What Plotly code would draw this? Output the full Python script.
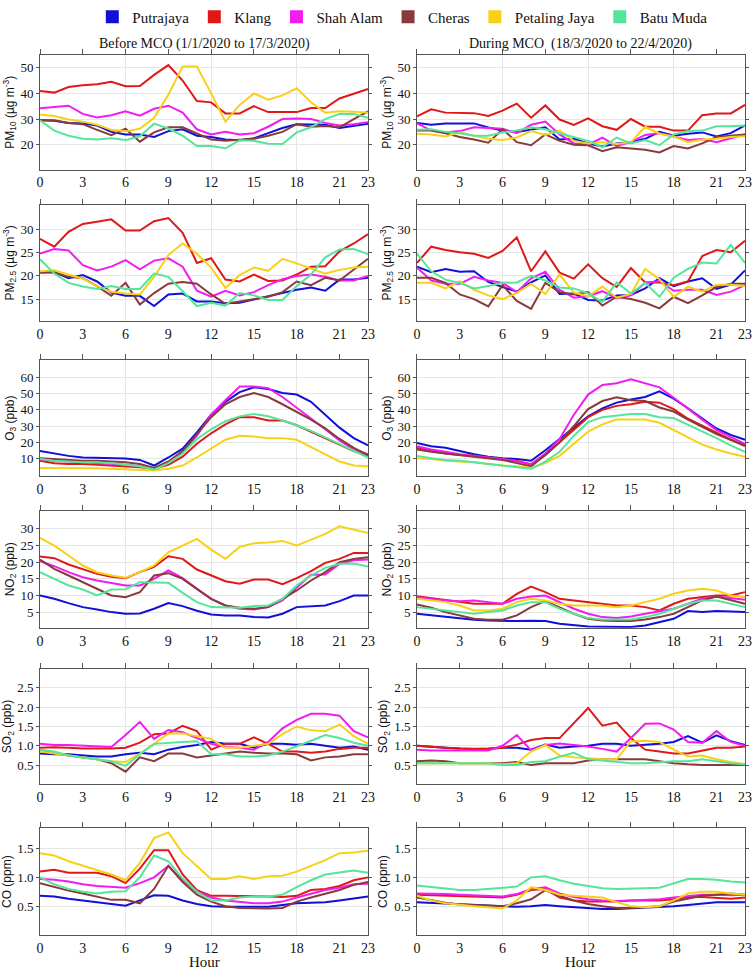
import plotly.graph_objects as go

hours = list(range(24))
stations = ['Putrajaya', 'Klang', 'Shah Alam', 'Cheras', 'Petaling Jaya', 'Batu Muda']
colors = ['#1010d8', '#e01818', '#f21cf0', '#8a3a3a', '#f7d117', '#55e59a']
hour_ticks = [0, 3, 6, 9, 12, 15, 18, 21, 23]

# PM10, before MCO
pm10_before_putrajaya = [29.5, 29.3, 28.5, 28.3, 27.5, 25.0, 24.0, 24.0, 23.0, 25.3, 26.0, 23.5, 23.0, 22.0, 21.7, 22.5, 24.5, 26.5, 28.0, 28.0, 27.8, 26.5, 27.5, 28.2]
pm10_before_klang = [40.9, 40.3, 42.5, 43.2, 43.6, 44.5, 42.8, 42.9, 47.2, 51.0, 45.0, 37.0, 36.5, 32.2, 32.2, 35.0, 32.7, 32.7, 32.7, 34.3, 34.3, 38.0, 40.0, 41.7]
pm10_before_shahalam = [34.2, 34.8, 35.2, 32.0, 30.6, 31.5, 33.0, 31.3, 34.0, 35.2, 32.5, 26.0, 24.0, 25.0, 24.0, 24.5, 27.0, 30.0, 30.2, 30.0, 28.5, 27.5, 28.0, 28.8]
pm10_before_cheras = [29.5, 29.5, 28.5, 28.0, 25.8, 23.7, 26.2, 21.2, 24.8, 26.8, 26.8, 24.3, 22.0, 21.5, 22.0, 22.3, 23.5, 25.0, 28.0, 27.0, 27.3, 26.8, 30.0, 33.0]
pm10_before_pj = [31.8, 31.2, 29.8, 29.0, 27.8, 25.8, 25.2, 26.2, 30.5, 39.5, 50.5, 50.5, 40.0, 29.0, 35.5, 40.0, 37.5, 39.2, 42.0, 36.5, 32.5, 33.0, 32.8, 32.5]
pm10_before_batumuda = [29.5, 25.5, 23.5, 22.3, 22.0, 22.5, 21.8, 23.3, 28.2, 26.3, 23.5, 19.5, 19.5, 18.6, 21.7, 21.5, 20.4, 20.3, 24.8, 26.8, 30.0, 32.0, 32.0, 30.5]

# PM10, during MCO
pm10_during_putrajaya = [28.5, 27.8, 28.3, 28.3, 28.3, 26.7, 25.5, 25.0, 26.0, 26.8, 22.0, 22.3, 20.5, 19.3, 20.5, 21.0, 22.3, 25.0, 23.5, 24.3, 24.8, 23.2, 24.5, 27.5]
pm10_during_klang = [31.0, 33.8, 32.5, 32.5, 32.3, 31.2, 33.3, 36.0, 30.5, 35.3, 29.8, 27.7, 30.3, 27.2, 25.8, 30.0, 27.0, 27.0, 25.5, 25.5, 31.5, 32.2, 32.2, 35.5]
pm10_during_shahalam = [28.3, 25.5, 24.8, 25.3, 26.8, 26.5, 26.2, 24.5, 27.8, 29.0, 24.0, 20.5, 20.0, 22.8, 19.5, 21.0, 23.8, 24.5, 23.0, 21.8, 22.2, 21.0, 22.5, 24.0]
pm10_during_cheras = [25.5, 25.5, 24.5, 23.0, 22.0, 20.8, 26.0, 21.0, 19.8, 24.0, 21.5, 20.0, 19.8, 17.5, 19.0, 18.5, 18.0, 17.0, 19.5, 18.5, 20.5, 23.0, 23.5, 24.0]
pm10_during_pj = [24.3, 24.0, 23.2, 24.8, 23.5, 22.3, 21.8, 22.8, 25.3, 23.8, 25.5, 21.5, 20.5, 21.0, 20.3, 21.0, 27.0, 24.3, 23.2, 21.0, 22.0, 22.3, 23.0, 23.3]
pm10_during_batumuda = [25.8, 26.0, 25.0, 24.5, 23.5, 23.5, 24.8, 25.5, 26.8, 26.0, 24.5, 23.0, 21.5, 19.0, 22.8, 20.5, 21.8, 19.8, 24.0, 25.3, 25.5, 27.2, 27.2, 27.5]

# PM2.5, before MCO
pm25_before_putrajaya = [20.8, 20.8, 19.5, 20.2, 18.8, 16.4, 15.7, 15.7, 13.5, 16.0, 16.2, 14.5, 14.5, 14.1, 14.2, 14.9, 15.6, 16.2, 17.0, 17.5, 16.8, 19.2, 19.2, 19.6]
pm25_before_klang = [28.0, 26.3, 29.5, 31.2, 31.7, 32.2, 29.8, 29.8, 31.8, 32.5, 29.3, 22.8, 23.8, 19.2, 18.8, 20.3, 18.9, 19.0, 20.3, 22.0, 22.1, 25.3, 27.0, 29.0]
pm25_before_shahalam = [24.8, 25.8, 25.5, 22.3, 21.2, 22.0, 23.4, 21.4, 23.3, 23.8, 22.0, 16.8, 15.5, 16.8, 15.8, 16.5, 18.0, 19.3, 20.0, 20.3, 19.8, 19.0, 19.0, 20.0]
pm25_before_cheras = [20.7, 20.8, 19.8, 19.5, 17.8, 15.7, 18.5, 13.8, 16.3, 18.3, 18.7, 18.3, 16.0, 14.0, 14.5, 15.0, 15.5, 16.5, 18.8, 18.0, 19.6, 19.0, 21.3, 23.7]
pm25_before_pj = [21.0, 21.2, 20.3, 19.4, 17.8, 16.6, 16.2, 16.0, 19.8, 24.5, 27.0, 24.8, 21.8, 17.4, 20.2, 21.8, 21.1, 23.7, 22.7, 21.6, 20.5, 21.3, 21.8, 22.0]
pm25_before_batumuda = [23.6, 20.5, 18.5, 17.7, 17.2, 17.8, 17.2, 17.2, 20.5, 19.8, 16.7, 13.5, 14.2, 13.6, 16.3, 15.8, 14.8, 14.8, 17.8, 20.3, 24.0, 25.7, 25.8, 24.7]

# PM2.5, during MCO
pm25_during_putrajaya = [22.0, 20.8, 21.5, 20.9, 21.0, 18.7, 17.6, 16.6, 18.6, 20.1, 16.1, 16.2, 14.8, 14.7, 15.8, 15.9, 17.3, 19.5, 17.8, 18.8, 19.5, 17.2, 18.1, 21.2]
pm25_during_klang = [22.8, 26.3, 25.6, 25.1, 24.8, 23.9, 25.4, 28.3, 21.0, 25.3, 20.7, 19.4, 22.5, 19.5, 17.6, 21.7, 18.6, 18.6, 18.0, 18.8, 24.3, 25.6, 25.1, 27.6]
pm25_during_shahalam = [21.8, 19.0, 18.3, 18.3, 19.8, 19.0, 18.5, 16.5, 19.5, 20.9, 17.0, 15.3, 15.6, 16.7, 15.2, 15.8, 18.5, 18.9, 16.8, 17.0, 17.0, 15.9, 16.6, 18.0]
pm25_during_cheras = [19.6, 19.6, 18.5, 16.0, 15.0, 13.4, 18.0, 14.6, 12.9, 18.5, 16.5, 16.0, 16.5, 13.6, 15.5, 15.0, 14.2, 13.0, 15.5, 14.1, 15.8, 17.6, 18.3, 18.3]
pm25_during_pj = [18.5, 18.5, 17.3, 18.8, 17.0, 15.8, 15.0, 16.3, 18.3, 16.1, 20.3, 16.4, 15.6, 17.7, 15.3, 16.1, 21.5, 19.3, 15.5, 17.7, 16.6, 18.1, 18.1, 17.8]
pm25_during_batumuda = [24.8, 21.0, 19.2, 18.5, 17.3, 17.8, 18.5, 18.6, 20.0, 19.0, 17.5, 17.3, 16.2, 14.4, 18.6, 16.2, 18.5, 15.5, 19.6, 21.5, 22.9, 22.7, 26.7, 22.8]

# O3, before MCO
o3_before_putrajaya = [14.5, 13.0, 11.5, 10.5, 10.3, 10.0, 9.8, 9.0, 5.5, 10.5, 16.0, 26.0, 37.0, 45.0, 51.0, 54.0, 53.0, 50.5, 49.5, 45.0, 37.0, 29.0, 22.5, 18.0]
o3_before_klang = [8.5, 7.0, 6.5, 6.5, 6.0, 5.5, 5.0, 4.5, 3.5, 6.0, 11.0, 19.0, 25.5, 31.0, 35.5, 35.5, 33.5, 33.5, 30.5, 26.5, 22.0, 18.0, 14.5, 11.5]
o3_before_shahalam = [9.5, 8.5, 8.0, 7.5, 7.0, 6.5, 6.0, 5.0, 3.5, 7.5, 14.0, 24.0, 37.0, 46.0, 54.5, 54.5, 53.5, 48.0, 41.5, 35.0, 28.0, 21.0, 15.5, 12.5]
o3_before_cheras = [10.0, 9.5, 9.0, 8.5, 8.5, 8.0, 7.5, 6.5, 4.0, 8.0, 14.5, 25.0, 35.5, 43.5, 48.0, 50.5, 48.0, 43.5, 39.0, 34.0, 28.5, 22.0, 16.5, 12.0]
o3_before_pj = [4.0, 4.0, 4.0, 4.0, 3.8, 3.5, 3.2, 2.8, 2.5, 3.5, 5.5, 10.5, 16.0, 21.5, 24.0, 23.5, 22.5, 22.5, 21.5, 17.0, 12.0, 8.0, 5.5, 5.0]
o3_before_batumuda = [9.5, 8.5, 8.0, 7.5, 7.5, 7.0, 6.0, 5.0, 3.0, 7.0, 13.0, 22.0, 28.0, 33.0, 36.0, 37.5, 36.0, 33.5, 30.5, 27.0, 23.0, 19.0, 15.0, 10.5]

# O3, during MCO
o3_during_putrajaya = [19.5, 17.5, 16.5, 14.5, 12.5, 11.0, 10.0, 9.5, 8.5, 15.0, 22.0, 29.0, 36.0, 41.0, 44.5, 46.5, 48.0, 51.5, 47.0, 41.0, 35.0, 28.5, 24.5, 21.5]
o3_during_klang = [16.5, 14.5, 13.0, 12.0, 11.5, 10.5, 9.5, 8.5, 6.0, 12.0, 20.0, 27.5, 35.5, 40.0, 42.5, 43.5, 45.0, 44.5, 40.5, 34.5, 30.0, 25.5, 21.5, 17.5]
o3_during_shahalam = [17.5, 15.5, 14.0, 12.5, 11.5, 10.5, 9.5, 8.0, 6.5, 13.0, 22.0, 37.0, 49.5, 55.5, 56.5, 59.0, 56.5, 54.0, 47.5, 40.5, 34.0, 27.5, 23.0, 19.0]
o3_during_cheras = [15.5, 14.0, 13.0, 12.0, 11.0, 10.0, 9.0, 7.0, 5.0, 12.0, 20.0, 30.0, 40.5, 45.5, 47.8, 46.0, 45.5, 41.5, 39.0, 34.0, 29.5, 25.0, 21.5, 18.0]
o3_during_pj = [10.0, 9.5, 8.5, 8.0, 7.5, 6.5, 5.5, 5.0, 4.0, 7.0, 11.5, 19.0, 26.5, 31.0, 34.0, 34.0, 34.0, 32.0, 27.5, 22.5, 18.5, 15.5, 13.0, 11.0]
o3_during_batumuda = [11.5, 10.0, 9.0, 8.5, 7.5, 6.5, 5.5, 4.5, 3.5, 8.0, 14.0, 24.0, 32.5, 35.5, 36.5, 37.5, 37.5, 35.5, 35.0, 31.0, 27.0, 22.5, 18.0, 14.0]

# NO2, before MCO
no2_before_putrajaya = [10.0, 9.0, 7.7, 6.5, 5.8, 5.0, 4.5, 4.6, 6.0, 7.7, 6.8, 5.4, 4.3, 4.0, 4.0, 3.5, 3.4, 4.5, 6.5, 6.8, 7.0, 8.3, 10.0, 10.0]
no2_before_klang = [21.7, 21.2, 19.3, 17.8, 16.5, 15.6, 15.2, 17.0, 18.6, 21.8, 21.0, 17.8, 16.0, 14.3, 13.5, 14.8, 14.8, 13.4, 15.2, 17.3, 19.8, 21.0, 22.8, 22.8]
no2_before_shahalam = [20.3, 18.8, 17.0, 15.5, 14.5, 13.7, 13.0, 13.0, 15.0, 17.5, 15.2, 12.0, 9.0, 7.0, 6.0, 5.8, 6.5, 8.5, 12.5, 16.2, 16.3, 19.5, 20.6, 20.8]
no2_before_cheras = [20.8, 18.0, 16.0, 14.0, 12.0, 10.0, 9.5, 11.0, 16.0, 16.7, 15.0, 12.0, 9.0, 7.0, 6.3, 6.0, 6.5, 9.0, 11.5, 14.5, 17.0, 20.0, 21.0, 21.5]
no2_before_pj = [27.3, 25.0, 22.0, 19.0, 17.0, 16.0, 15.3, 17.0, 19.0, 23.0, 25.0, 27.0, 23.8, 21.0, 24.6, 25.7, 25.9, 26.4, 25.0, 26.8, 28.5, 30.8, 29.8, 28.8]
no2_before_batumuda = [17.0, 15.0, 13.0, 11.8, 10.0, 11.8, 11.9, 14.0, 13.9, 13.8, 10.8, 8.0, 6.5, 6.5, 6.3, 6.8, 7.0, 9.0, 13.0, 16.0, 18.3, 19.5, 19.6, 18.7]

# NO2, during MCO
no2_during_putrajaya = [4.5, 4.0, 3.5, 3.0, 2.7, 2.5, 2.3, 2.3, 2.4, 2.3, 1.5, 1.0, 0.7, 0.6, 0.5, 0.5, 1.0, 2.0, 3.0, 5.3, 5.0, 5.3, 5.2, 5.0]
no2_during_klang = [9.8, 9.2, 8.5, 8.0, 7.5, 7.5, 7.5, 10.5, 12.7, 11.0, 9.0, 8.5, 8.0, 7.5, 7.0, 7.0, 6.5, 5.5, 7.5, 9.0, 9.5, 10.0, 10.0, 11.0]
no2_during_shahalam = [9.5, 9.0, 8.5, 8.3, 8.5, 8.0, 7.5, 9.0, 9.7, 10.0, 8.0, 6.0, 4.5, 3.5, 3.2, 3.7, 4.5, 5.3, 6.0, 7.5, 9.0, 9.7, 9.2, 8.7]
no2_during_cheras = [7.3, 6.3, 5.0, 4.0, 3.0, 2.7, 2.7, 4.0, 6.5, 8.3, 6.5, 4.5, 3.0, 2.5, 2.3, 2.3, 2.8, 3.5, 4.5, 6.5, 8.5, 9.7, 8.7, 7.5]
no2_during_pj = [9.0, 8.5, 8.0, 7.0, 5.5, 5.5, 6.0, 8.0, 9.0, 8.5, 7.5, 7.0, 7.0, 7.0, 6.5, 7.0, 8.0, 9.0, 10.5, 11.5, 12.0, 11.5, 10.0, 9.5]
no2_during_batumuda = [6.5, 6.0, 5.5, 5.0, 4.5, 5.0, 5.5, 7.0, 8.0, 8.0, 6.0, 4.5, 3.2, 2.8, 2.7, 2.8, 3.5, 4.5, 6.0, 7.5, 8.5, 8.5, 7.5, 6.5]

# SO2, before MCO
so2_before_putrajaya = [0.80, 0.78, 0.78, 0.75, 0.72, 0.72, 0.78, 0.82, 0.78, 0.90, 0.97, 1.02, 1.10, 1.05, 1.05, 0.95, 1.05, 1.05, 1.03, 1.05, 1.00, 0.95, 0.98, 0.90]
so2_before_klang = [0.95, 0.96, 0.95, 0.93, 0.93, 0.93, 0.95, 1.08, 1.30, 1.32, 1.52, 1.38, 0.90, 1.05, 1.05, 1.22, 1.05, 0.85, 0.85, 0.82, 0.85, 0.92, 0.95, 0.95]
so2_before_shahalam = [1.05, 1.02, 1.02, 1.00, 0.98, 0.97, 1.28, 1.62, 1.18, 1.41, 1.35, 1.20, 1.05, 0.97, 0.95, 0.90, 1.10, 1.45, 1.67, 1.83, 1.83, 1.78, 1.38, 1.22]
so2_before_cheras = [0.90, 0.80, 0.75, 0.70, 0.65, 0.55, 0.33, 0.70, 0.60, 0.80, 0.80, 0.70, 0.75, 0.80, 0.85, 0.82, 0.80, 0.80, 0.78, 0.62, 0.70, 0.72, 0.78, 0.78]
so2_before_pj = [0.85, 0.80, 0.75, 0.70, 0.65, 0.60, 0.58, 0.80, 1.05, 1.32, 1.32, 1.25, 1.18, 0.95, 0.95, 1.00, 1.05, 1.30, 1.50, 1.40, 1.38, 1.55, 1.25, 1.05]
so2_before_batumuda = [0.90, 0.85, 0.75, 0.70, 0.65, 0.60, 0.48, 0.78, 1.05, 1.08, 1.10, 1.12, 0.78, 0.78, 0.72, 0.72, 0.75, 0.85, 0.98, 1.13, 1.28, 1.20, 1.08, 1.00]

# SO2, during MCO
so2_during_putrajaya = [1.00, 0.97, 0.95, 0.93, 0.92, 0.93, 0.95, 0.95, 0.90, 1.03, 0.95, 0.98, 1.00, 1.05, 1.05, 1.00, 1.02, 1.05, 1.10, 1.25, 1.08, 1.27, 1.12, 1.02]
so2_during_klang = [1.00, 0.97, 0.95, 0.93, 0.92, 0.92, 0.95, 1.03, 1.15, 1.20, 1.20, 1.58, 1.98, 1.52, 1.60, 1.20, 0.90, 0.85, 0.80, 0.80, 0.88, 0.95, 0.95, 0.98]
so2_during_shahalam = [0.90, 0.88, 0.88, 0.88, 0.88, 0.88, 1.00, 1.28, 0.88, 1.02, 1.06, 1.02, 0.98, 0.92, 0.85, 1.20, 1.57, 1.58, 1.42, 1.10, 1.08, 1.38, 1.10, 1.00]
so2_during_cheras = [0.60, 0.62, 0.60, 0.55, 0.55, 0.55, 0.55, 0.58, 0.50, 0.55, 0.55, 0.55, 0.62, 0.65, 0.65, 0.65, 0.65, 0.60, 0.55, 0.52, 0.50, 0.50, 0.50, 0.50]
so2_during_pj = [0.55, 0.55, 0.55, 0.55, 0.55, 0.55, 0.52, 0.55, 0.85, 1.02, 0.75, 0.70, 0.68, 0.65, 0.65, 1.12, 1.13, 1.10, 0.90, 0.72, 0.75, 0.65, 0.58, 0.52]
so2_during_batumuda = [0.55, 0.55, 0.55, 0.55, 0.55, 0.55, 0.50, 0.50, 0.58, 0.60, 0.72, 0.82, 0.65, 0.62, 0.58, 0.55, 0.55, 0.58, 0.60, 0.60, 0.65, 0.60, 0.55, 0.52]

# CO, before MCO
co_before_putrajaya = [0.68, 0.67, 0.63, 0.60, 0.57, 0.53, 0.51, 0.60, 0.69, 0.68, 0.60, 0.54, 0.50, 0.49, 0.49, 0.49, 0.49, 0.52, 0.55, 0.56, 0.57, 0.60, 0.63, 0.67]
co_before_klang = [1.10, 1.13, 1.08, 1.08, 1.08, 1.02, 0.90, 1.15, 1.47, 1.47, 1.05, 0.78, 0.68, 0.68, 0.68, 0.67, 0.67, 0.66, 0.68, 0.78, 0.80, 0.85, 0.95, 1.00]
co_before_shahalam = [0.97, 0.96, 0.93, 0.88, 0.85, 0.83, 0.82, 0.90, 1.00, 1.20, 0.95, 0.75, 0.65, 0.60, 0.57, 0.55, 0.55, 0.58, 0.65, 0.72, 0.78, 0.82, 0.88, 0.89]
co_before_cheras = [0.90, 0.83, 0.77, 0.72, 0.67, 0.61, 0.61, 0.55, 0.80, 1.20, 0.92, 0.70, 0.58, 0.50, 0.47, 0.46, 0.46, 0.47, 0.58, 0.65, 0.72, 0.78, 0.87, 0.92]
co_before_pj = [1.42, 1.38, 1.28, 1.20, 1.12, 1.05, 0.95, 1.25, 1.68, 1.78, 1.42, 1.20, 0.97, 0.97, 1.02, 0.97, 1.02, 1.03, 1.10, 1.20, 1.30, 1.42, 1.43, 1.46]
co_before_batumuda = [1.00, 0.88, 0.80, 0.75, 0.72, 0.75, 0.76, 1.00, 1.38, 1.28, 0.98, 0.75, 0.60, 0.60, 0.65, 0.67, 0.67, 0.70, 0.83, 0.95, 1.05, 1.08, 1.12, 1.08]

# CO, during MCO
co_during_putrajaya = [0.57, 0.56, 0.55, 0.53, 0.52, 0.51, 0.50, 0.49, 0.50, 0.52, 0.50, 0.48, 0.46, 0.45, 0.45, 0.46, 0.47, 0.49, 0.50, 0.52, 0.55, 0.57, 0.57, 0.57]
co_during_klang = [0.70, 0.69, 0.68, 0.67, 0.66, 0.65, 0.65, 0.70, 0.78, 0.80, 0.65, 0.60, 0.58, 0.58, 0.58, 0.60, 0.60, 0.60, 0.62, 0.66, 0.66, 0.65, 0.63, 0.65]
co_during_shahalam = [0.72, 0.72, 0.71, 0.70, 0.69, 0.68, 0.67, 0.71, 0.80, 0.83, 0.72, 0.66, 0.62, 0.60, 0.59, 0.60, 0.61, 0.62, 0.65, 0.68, 0.70, 0.70, 0.69, 0.70]
co_during_cheras = [0.65, 0.60, 0.56, 0.53, 0.52, 0.51, 0.50, 0.55, 0.62, 0.78, 0.68, 0.60, 0.54, 0.50, 0.47, 0.47, 0.48, 0.50, 0.58, 0.63, 0.68, 0.70, 0.72, 0.70]
co_during_pj = [0.68, 0.60, 0.55, 0.52, 0.50, 0.48, 0.46, 0.60, 0.83, 0.78, 0.70, 0.68, 0.67, 0.65, 0.57, 0.50, 0.48, 0.50, 0.60, 0.72, 0.75, 0.75, 0.72, 0.70]
co_during_batumuda = [0.86, 0.83, 0.80, 0.78, 0.78, 0.80, 0.83, 0.84, 1.00, 1.02, 0.95, 0.89, 0.85, 0.81, 0.80, 0.80, 0.81, 0.82, 0.90, 0.97, 0.97, 0.96, 0.93, 0.91]

# one row per pollutant: y title, y range, y ticks, tick format, before, during
rows = [
    ('PM<sub>10</sub> (µg m<sup>-3</sup>)', [10.3, 55], [20, 30, 40, 50], '',
     [pm10_before_putrajaya, pm10_before_klang, pm10_before_shahalam, pm10_before_cheras, pm10_before_pj, pm10_before_batumuda],
     [pm10_during_putrajaya, pm10_during_klang, pm10_during_shahalam, pm10_during_cheras, pm10_during_pj, pm10_during_batumuda]),
    ('PM<sub>2.5</sub> (µg m<sup>-3</sup>)', [10.2, 35.4], [15, 20, 25, 30], '',
     [pm25_before_putrajaya, pm25_before_klang, pm25_before_shahalam, pm25_before_cheras, pm25_before_pj, pm25_before_batumuda],
     [pm25_during_putrajaya, pm25_during_klang, pm25_during_shahalam, pm25_during_cheras, pm25_during_pj, pm25_during_batumuda]),
    ('O<sub>3</sub> (ppb)', [-1, 70.8], [10, 20, 30, 40, 50, 60], '',
     [o3_before_putrajaya, o3_before_klang, o3_before_shahalam, o3_before_cheras, o3_before_pj, o3_before_batumuda],
     [o3_during_putrajaya, o3_during_klang, o3_during_shahalam, o3_during_cheras, o3_during_pj, o3_during_batumuda]),
    ('NO<sub>2</sub> (ppb)', [0.3, 35.4], [5, 10, 15, 20, 25, 30], '',
     [no2_before_putrajaya, no2_before_klang, no2_before_shahalam, no2_before_cheras, no2_before_pj, no2_before_batumuda],
     [no2_during_putrajaya, no2_during_klang, no2_during_shahalam, no2_during_cheras, no2_during_pj, no2_during_batumuda]),
    ('SO<sub>2</sub> (ppb)', [0, 3.0], [0.5, 1.0, 1.5, 2.0, 2.5], '.1f',
     [so2_before_putrajaya, so2_before_klang, so2_before_shahalam, so2_before_cheras, so2_before_pj, so2_before_batumuda],
     [so2_during_putrajaya, so2_during_klang, so2_during_shahalam, so2_during_cheras, so2_during_pj, so2_during_batumuda]),
    ('CO (ppm)', [0, 1.85], [0.5, 1.0, 1.5], '.1f',
     [co_before_putrajaya, co_before_klang, co_before_shahalam, co_before_cheras, co_before_pj, co_before_batumuda],
     [co_during_putrajaya, co_during_klang, co_during_shahalam, co_during_cheras, co_during_pj, co_during_batumuda]),
]

x_dom = [[0.0532, 0.4894], [0.5545, 0.9907]]
y_dom = [[0.8272, 0.9455], [0.6708, 0.7912], [0.5113, 0.6307],
         [0.3549, 0.4753], [0.1934, 0.3128], [0.0381, 0.1481]]

axis_col = '#555555'
grid_col = '#e6e6e6'
serif = 'Liberation Serif'

fig = go.Figure()
axes = {}


def sid(n):
    return '' if n == 1 else str(n)


for r, (ytitle, yrange, yticks, yfmt, before, during) in enumerate(rows):
    for c, series in enumerate([before, during]):
        n = r * 2 + c + 1
        xa, ya = 'x' + sid(n), 'y' + sid(n)
        for name, color, vals in zip(stations, colors, series):
            fig.add_trace(go.Scatter(x=hours, y=vals, mode='lines', name=name,
                                     line=dict(color=color, width=2),
                                     showlegend=False, xaxis=xa, yaxis=ya))
        # holder for the top tick axis
        fig.add_trace(go.Scatter(x=[None], y=[None], xaxis='x' + str(n + 12), yaxis=ya,
                                 showlegend=False, hoverinfo='skip'))

        axes['xaxis' + sid(n)] = dict(
            domain=x_dom[c], anchor=ya, range=[0, 23],
            tickmode='array', tickvals=hour_ticks, ticks='', ticklabeloverflow='allow',
            tickfont=dict(family=serif, size=14, color='#111'),
            showline=True, linecolor=axis_col, linewidth=1, mirror=True,
            showgrid=False, zeroline=False, automargin=False)
        axes['xaxis' + str(n + 12)] = dict(
            overlaying=xa, side='top', anchor=ya, range=[0, 23],
            tickmode='array', tickvals=[6, 12, 18], ticks='outside', ticklen=5,
            tickcolor=axis_col, showticklabels=False, showline=False,
            showgrid=True, gridcolor=grid_col, zeroline=False, automargin=False,
            minor=dict(tickmode='array', tickvals=[0, 3, 9, 15, 21], ticks='outside',
                       ticklen=5, tickcolor=axis_col, showgrid=False))
        axes['yaxis' + sid(n)] = dict(
            domain=y_dom[r], anchor=xa, range=yrange,
            tickmode='array', tickvals=yticks, tickformat=yfmt,
            ticks='outside', ticklen=3, tickcolor=axis_col,
            tickfont=dict(family=serif, size=13, color='#111'),
            showline=True, linecolor=axis_col, linewidth=1, mirror='ticks',
            showgrid=True, gridcolor=grid_col, zeroline=False, automargin=False,
            title=dict(text=ytitle, font=dict(family='Liberation Sans', size=12, color='#111'),
                       standoff=3))

# legend entries with square swatches
for name, color in zip(stations, colors):
    fig.add_trace(go.Scatter(x=[None], y=[None], mode='markers', name=name,
                             marker=dict(symbol='square', size=13, color=color),
                             xaxis='x', yaxis='y'))

text_font = dict(family=serif, size=14, color='#111')
hour_font = dict(family=serif, size=15, color='#111')
fig.update_layout(
    width=752, height=972, template='none',
    margin=dict(l=0, r=0, t=0, b=0),
    paper_bgcolor='white', plot_bgcolor='white',
    font=dict(family=serif, color='#111'),
    showlegend=True,
    legend=dict(orientation='h', x=0.535, xanchor='center', y=0.9846, yanchor='middle',
                font=dict(family=serif, size=15, color='#111'), itemwidth=30,
                bgcolor='rgba(0,0,0,0)'),
    annotations=[
        dict(text='Before MCO (1/1/2020 to 17/3/2020)', x=0.2713, y=0.9568, xref='paper', yref='paper',
             xanchor='center', yanchor='middle', showarrow=False, font=text_font),
        dict(text='During MCO  (18/3/2020 to 22/4/2020)', x=0.7726, y=0.9568, xref='paper', yref='paper',
             xanchor='center', yanchor='middle', showarrow=False, font=text_font),
        dict(text='Hour', x=0.2713, y=0.0, xref='paper', yref='paper',
             xanchor='center', yanchor='bottom', showarrow=False, font=hour_font),
        dict(text='Hour', x=0.7726, y=0.0, xref='paper', yref='paper',
             xanchor='center', yanchor='bottom', showarrow=False, font=hour_font),
    ],
    **axes,
)

fig.write_html('out.html', config={'displayModeBar': False},
               post_script="document.body.style.margin='0';document.body.style.overflow='hidden';")
